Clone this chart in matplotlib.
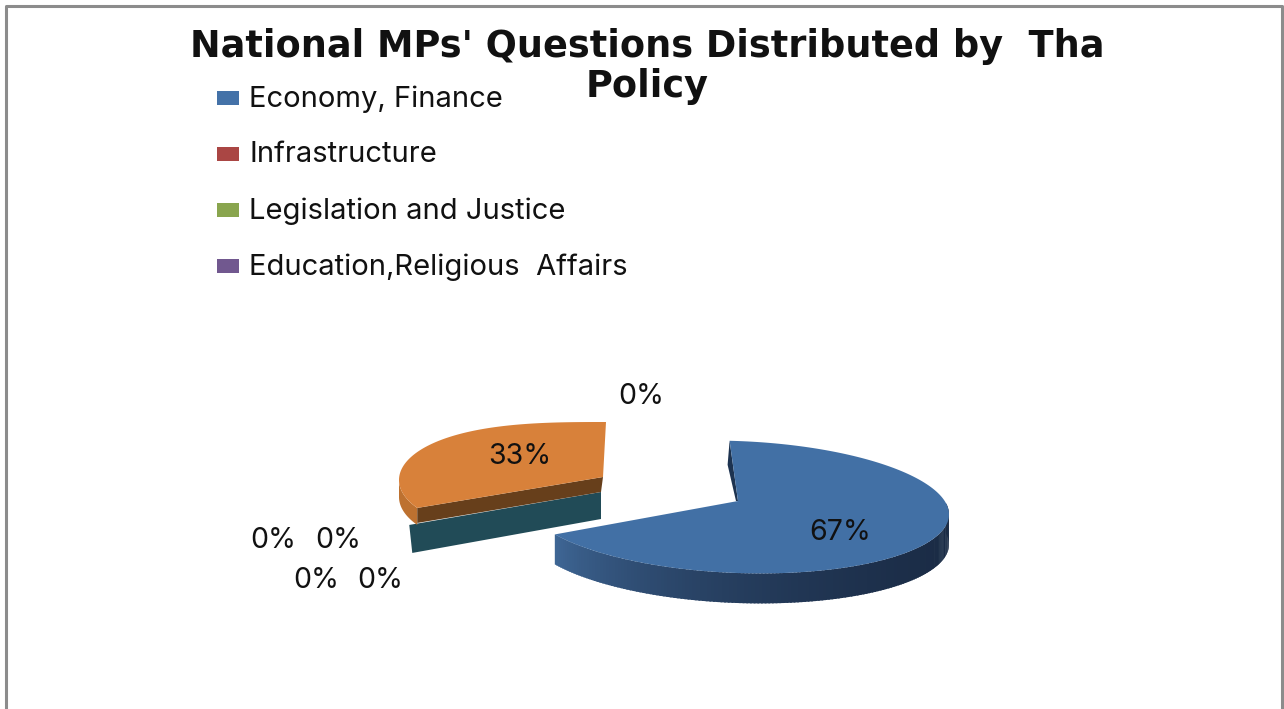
import numpy as np
import matplotlib.pyplot as plt
from matplotlib.patches import Polygon, Rectangle

plt.rcParams['font.family'] = ['Inter', 'DejaVu Sans']

title = "National MPs' Questions Distributed by  Tha\nPolicy"
legend_names = ['Economy, Finance', 'Infrastructure', 'Legislation and Justice', 'Education,Religious  Affairs']
legend_colors = ['#4472a8', '#aa4644', '#89a54e', '#71588f']
# share of questions per policy, in drawing order round the pie
shares = [67, 0, 0, 0, 0, 33, 0]
share_labels = ['67%', '0%', '0%', '0%', '0%', '33%', '0%']
label_pos = [(840, 533), (273, 540), (338, 540), (316, 581), (380, 581), (520, 457), (641, 397)]

W, H = 1284, 709
fig = plt.figure(figsize=(W / 100, H / 100), dpi=100)
ax = fig.add_axes([0, 0, 1, 1])
ax.set_xlim(0, W)
ax.set_ylim(H, 0)
ax.axis('off')


def rim(cx, cy, rx, ry, t0, t1, p=1.0, shear=0.0):
    # outline of the tilted pie, t in degrees clockwise from 12 o'clock
    t = np.radians(np.linspace(t0, t1, 200))
    s = np.sin(t)
    x = cx + rx * np.sign(s) * np.abs(s) ** p
    y = cy - ry * np.cos(t) + shear * (x - cx)
    return np.column_stack([x, y])


# slice limits from the shares
edges = np.cumsum([0] + shares) * 3.6

# blue slice, side wall first so the top sits over it
t0, t1 = edges[0] - 2, edges[1] - 2
cx, cy, rx, ry, depth, shear = 737, 507, 212, 66, 30, 0.035
for a in np.arange(80, t1, 1.0):
    seg = rim(cx, cy, rx, ry, a, min(a + 1.5, t1), shear=shear)
    low = seg[::-1] + [0, depth]
    k = ((a - 80) / (t1 - 80)) ** 2.5
    c = np.array([0x1a, 0x2b, 0x45]) * (1 - k) + np.array([0x3f, 0x67, 0x96]) * k
    ax.add_patch(Polygon(np.vstack([seg, low]), fc=c / 255, ec='none', zorder=2))
top = rim(cx, cy, rx, ry, t0, t1, shear=shear)
apex = np.array([738, 501])
ax.add_patch(Polygon(np.vstack([top, apex]), fc='#4270a5', ec='none', zorder=3))
ax.add_patch(Polygon([top[0], top[0] + [-2, 24], apex + [-2, 0], apex], fc='#1d3350', ec='none', zorder=2))

# zero-width teal slice only shows its cut face
end = rim(606, 480, 207, 58, edges[5], edges[5], p=0.7)[0]
o_apex = np.array([603, 477])
ax.add_patch(Polygon([end + [-8, 17], o_apex + [-2, 15], o_apex + [-2, 42], end + [-5, 45]],
                     fc='#214b57', ec='none', zorder=2))

# orange slice pulled out to the left
arc = rim(606, 480, 207, 58, edges[5], edges[6], p=0.7)
side = rim(606, 480, 207, 58, edges[5], 270, p=0.7)
ax.add_patch(Polygon(np.vstack([side, side[::-1] + [0, 17]]), fc='#bd7130', ec='none', zorder=3))
ax.add_patch(Polygon([end, o_apex, o_apex + [-2, 15], end + [0, 15]], fc='#673f1b', ec='none', zorder=4))
ax.add_patch(Polygon(np.vstack([arc, o_apex]), fc='#d8813a', ec='none', zorder=5))

for txt, (x, y) in zip(share_labels, label_pos):
    ax.text(x, y, txt, fontsize=20.5, color='#111111', ha='center', va='center', zorder=6)

ax.text(647, 66.5, title, fontsize=26.4, fontweight='bold', family=['DejaVu Sans'], color='#111111',
        ha='center', va='center', linespacing=1.07)

for i, (name, col) in enumerate(zip(legend_names, legend_colors)):
    y = 98 + i * 56
    ax.add_patch(Rectangle((217, y - 7), 22, 14, fc=col, ec='none'))
    ax.text(249, y + 1, name, fontsize=21, color='#111111', ha='left', va='center')

# chart frame, runs off the bottom
ax.plot([6, 6, 1282, 1282], [H, 6, 6, H], color='#8c8c8c', lw=2.2)

fig.savefig('out.png', dpi=100)
